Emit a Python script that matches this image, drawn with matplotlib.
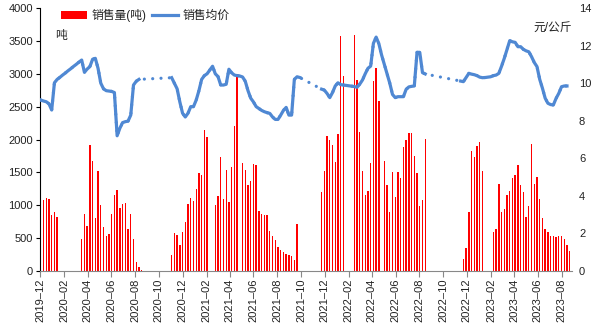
import numpy as np
import pandas as pd
import matplotlib
matplotlib.use('Agg')
import matplotlib.pyplot as plt
import matplotlib.dates as mdates

plt.rcParams['font.family'] = ['Liberation Sans', 'Noto Sans CJK SC']

nan = np.nan

# weekly series, first week 2019-12-03
weeks = pd.date_range('2019-12-03', periods=195, freq='7D')

# sales volume (tons), nan = no sales that week
volume = [1160, 1080, 1110, 1095, 850, 900, 825] + [nan] * 8 + \
    [480, 870, 678, 1920, 1680, 810, 1525, 1005, 675, 540, 560, 870, 1155, 1225,
     958, 1018, 1040, 643, 870, 485, 145, 55, 20] + [nan] * 10 + \
    [244, 574, 548, 396, 589, 741, 1025, 1117, 1071, 1254, 1492, 1462, 2142, 2036] + [nan] * 2 + \
    [1000, 1147, 1736, 1090, 1540, 1046, 1589, 2200, 3000] + [nan] + \
    [1642, 1540, 1310, 1371, 1627, 1614, 914, 866, 845, 845, 612, 536, 470, 365,
     322, 286, 264, 241, 231, 168, 714] + [nan] * 8 + \
    [1208, 1523, 2056, 1995, 1919, 1665, 2086, 3579, 2970] + [nan] * 3 + \
    [3594, 2900, 2120, 1528, 1157, 1223, 1645, 2883, 3086, 2589] + [nan] + \
    [1680, 1310, 893, 1508, 1132, 1508, 1421, 1893, 1995, 2101, 2101, 1751, 1492,
     995, 1076, 2010] + [nan] * 13 + \
    [183, 345, 893, 1827, 1731, 1898, 1964, 1523] + [nan] * 3 + \
    [592, 635, 1328, 893, 939, 1160, 1215, 1414, 1462, 1610, 1310, 1208, 822, 990,
     1930, 1325, 1437, 1091, 802, 645, 590, 530, 540, 525, 530, 530, 490, 396, 305]

# average price (yuan/kg)
price = [9.10, 9.05, 9.01, 8.90, 8.57, 10.02, 10.20, 10.31, 10.43, 10.54,
         10.66, 10.77, 10.89, 11.00, 11.12, 11.23, 10.58, 10.75, 10.88, 11.27,
         11.32, 10.79, 10.00, 9.70, 9.60, 9.58, 9.56, 9.50, 7.20, 7.60,
         7.90, 7.95, 7.98, 8.30, 9.90, 10.10, 10.20] + [nan] * 11 + \
        [10.29, 10.00,
         9.70, 9.00, 8.40, 8.20, 8.40, 8.75, 8.75, 9.10, 9.60, 10.20,
         10.40, 10.50, 10.70, 10.90, 10.50, 10.35, 9.90, 9.90, 9.94, 10.74,
         10.55, 10.43, 10.40, 10.38, 10.33, 10.10, 9.60, 9.20, 9.00, 8.75,
         8.65, 8.55, 8.48, 8.43, 8.39, 8.20, 8.07, 8.07, 8.30, 8.55,
         8.71, 8.30, 8.30, 10.20, 10.34, 10.30] + [nan] * 7 + \
        [9.68, 9.63, 9.45, 9.23, 9.50, 9.85, 10.02,
         9.92, 9.90, 9.88, 9.86, 9.84, 9.82, 9.78, 9.95, 10.17, 10.50,
         10.79, 10.91, 12.12, 12.45, 12.10, 11.50, 11.00, 10.50, 10.00, 9.40,
         9.23, 9.28, 9.28, 9.28, 9.67, 9.80, 9.83, 9.85, 11.64, 11.64,
         10.56, 10.49] + [nan] * 12 + \
        [10.11, 10.08, 10.30, 10.52, 10.48, 10.45,
         10.40, 10.32, 10.29, 10.30, 10.32, 10.34, 10.40, 10.43, 10.52, 10.90,
         11.32, 11.80, 12.26, 12.20, 12.17, 11.94, 11.94, 11.80, 11.72, 11.67,
         11.41, 11.10, 10.88, 10.20, 9.73, 9.20, 8.93, 8.86, 8.84, 9.19,
         9.46, 9.81, 9.85, 9.85, nan]

blue = '#4f88d3'
txt = '#222222'

fig, ax = plt.subplots(figsize=(5.99, 3.33), dpi=100)
fig.subplots_adjust(left=0.0668, right=0.955, bottom=0.186, top=0.976)

bars = ax.bar(weeks, volume, width=3.5, color='#ff0000', label='销售量(吨)')
ax.set_ylim(0, 4000)
ax.set_yticks(np.arange(0, 4001, 500))
ax.set_xlim(pd.Timestamp('2019-12-01'), pd.Timestamp('2023-08-28'))
ax.xaxis.set_major_locator(mdates.MonthLocator(bymonth=[2, 4, 6, 8, 10, 12]))
ax.xaxis.set_major_formatter(mdates.DateFormatter('%Y–%m'))
ax.tick_params(axis='x', labelrotation=90, labelsize=8, colors='#888888',
               labelcolor=txt, length=4, pad=1.5)
ax.tick_params(axis='y', labelsize=8, colors='black', labelcolor=txt, length=3, pad=2)
for lab in ax.get_xticklabels():
    lab.set_horizontalalignment('center')

ax.spines['top'].set_visible(False)
ax.spines['right'].set_visible(False)
ax.spines['bottom'].set_color('#888888')
ax.spines['left'].set_color('black')

ax2 = ax.twinx()
s = pd.Series(price, index=weeks).dropna()
# dotted connection across weeks without price
ax2.plot(s.index, s.values, color=blue, lw=2.3, ls=(0, (0.01, 2.6)),
         dash_capstyle='round')
line, = ax2.plot(weeks, price, color=blue, lw=2.3, solid_joinstyle='round',
                 label='销售均价')
ax2.set_ylim(0, 14)
ax2.set_yticks(np.arange(0, 15, 2))
ax2.tick_params(axis='y', labelsize=8, labelcolor=txt, length=0, pad=5)
for sp in ax2.spines.values():
    sp.set_visible(False)

ax.text(0.028, 0.895, '吨', transform=ax.transAxes, fontsize=8.5, color=txt,
        ha='left', va='center')
ax.text(1.0, 0.922, '元/公斤', transform=ax.transAxes, fontsize=8.5, color=txt,
        ha='right', va='center')

ax2.legend([bars, line], ['销售量(吨)', '销售均价'], loc='center left',
           bbox_to_anchor=(0.04, 0.972), ncol=2, frameon=False, fontsize=8.5,
           borderaxespad=0, borderpad=0, handlelength=2.2, handletextpad=0.4,
           columnspacing=0.4, labelcolor=txt)

fig.savefig('out.png', dpi=100)
